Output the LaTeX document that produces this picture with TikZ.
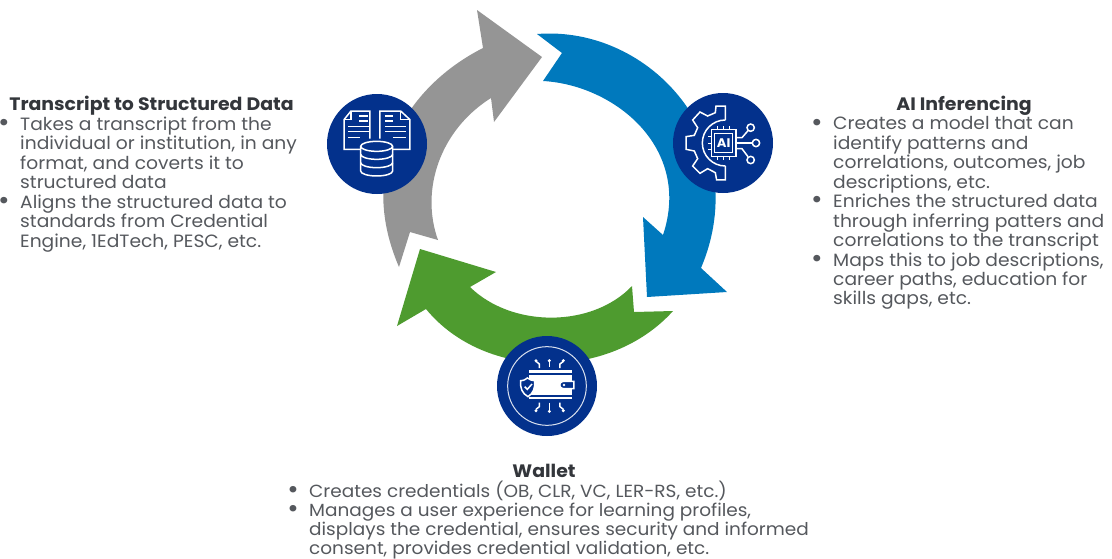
\documentclass[tikz,border=0pt]{standalone}
\usepackage{fontspec}
\setmainfont{Poppins}[FakeStretch=1.05]
\usetikzlibrary{shapes.geometric}
\definecolor{navy}{HTML}{03318C}
\definecolor{bluearrow}{HTML}{0079BD}
\definecolor{greyarrow}{HTML}{959595}
\definecolor{greenarrow}{HTML}{4E9B2F}
\definecolor{bodytxt}{HTML}{55585D}
\definecolor{headtxt}{HTML}{33363B}
\newcommand\bl{\llap{\raisebox{-0.12ex}{\scalebox{1.5}{\textbullet}}\hspace{10.5pt}}}
\tikzset{
  hub/.style={circle,fill=navy,minimum size=100pt,inner sep=0pt},
  bodyblock/.style={anchor=north west,inner sep=0pt,align=left,text=bodytxt,
    font=\fontsize{17.8}{19.45}\selectfont},
  headblock/.style={anchor=base,inner sep=0pt,text=headtxt,
    font=\fontsize{18}{19.45}\selectfont\bfseries},
  ico/.style={draw=white,line width=1.5pt,line join=miter},
}
\begin{document}
\begin{tikzpicture}[x=1pt,y=-1pt]
\useasboundingbox (0,0) rectangle (1112,558);
% arrows
\fill[greyarrow] (399,267) -- (410,232) -- (438,240)
  .. controls (420,190) and (440,130) .. (491,98)
  -- (494,122) -- (542,57) -- (477,10) -- (483,48)
  .. controls (410,85) and (355,165) .. (399,267) -- cycle;
\fill[bluearrow] (537,34) -- (562,53) -- (543,81)
  .. controls (615,85) and (692,148) .. (663,235)
  -- (643,217) -- (647,297) -- (727,292) -- (701,268)
  .. controls (755,140) and (650,25) .. (537,34) -- cycle;
\fill[greenarrow] (673,311) -- (634,312) -- (632,286)
  .. controls (592,328) and (512,328) .. (470,287)
  -- (496,272) -- (420,249) -- (397,326) -- (426,309)
  .. controls (485,381) and (610,381) .. (673,311) -- cycle;
% hubs
\node[hub] (hubT) at (377,144) {};
\node[hub] (hubA) at (723,143) {};
\node[hub] (hubW) at (547,386) {};
% transcript icon
\begin{scope}[shift={(330,97)},x=0.3333pt,y=-0.3333pt]
  \draw[ico] (92,157) -- (42,157) -- (42,68) -- (63,42) -- (120,42) -- (120,125);
  \draw[ico] (63,42) -- (63,68) -- (42,68);
  \draw[ico] (187,157) -- (240,157) -- (240,68) -- (212,42) -- (150,42) -- (150,125);
  \draw[ico] (212,42) -- (212,68) -- (240,68);
  \foreach \yy in {57,72} {\draw[ico] (88,\yy) -- (115,\yy); \draw[ico] (165,\yy) -- (190,\yy);}
  \foreach \yy in {88,103} {\draw[ico] (55,\yy) -- (118,\yy); \draw[ico] (165,\yy) -- (228,\yy);}
  \draw[ico] (55,122) -- (90,122); \draw[ico] (190,122) -- (228,122);
  \draw[ico,fill=navy] (92,148) -- (92,222) arc[start angle=180,end angle=0,x radius=48,y radius=15] -- (188,148)
     arc[start angle=0,end angle=-180,x radius=48,y radius=15] -- cycle;
  \draw[ico] (92,148) arc[start angle=180,end angle=0,x radius=48,y radius=15];
  \draw[ico] (92,172) arc[start angle=180,end angle=0,x radius=48,y radius=15];
  \draw[ico] (92,197) arc[start angle=180,end angle=0,x radius=48,y radius=15];
\end{scope}
% AI icon
\begin{scope}[shift={(676,96)},x=0.3333pt,y=-0.3333pt]
  \draw[ico] (148,72) -- (148,30) -- (120,30) -- (118,50) -- (95,60) -- (72,48) -- (50,72) -- (65,95)
    -- (55,118) -- (30,122) -- (30,160) -- (55,165) -- (65,188) -- (50,210) -- (72,232) -- (95,218)
    -- (118,230) -- (122,252) -- (148,252) -- (148,210);
  \draw[ico] (148,72) arc[start angle=-90,end angle=-270,radius=69];
  \draw[ico,fill=navy] (106,100) rectangle (180,182);
  \draw[ico,line width=1pt] (116,112) rectangle (170,170);
  \node[font=\fontsize{12.5}{13}\selectfont\bfseries,text=white,inner sep=0pt] (aiLabel) at (143,141) {AI};
  \foreach \yy in {122,141,160} {\draw[ico,line width=1pt] (96,\yy) -- (106,\yy);}
  \foreach \xx in {125,142,160} {\draw[ico,line width=1pt] (\xx,90) -- (\xx,100); \draw[ico,line width=1pt] (\xx,182) -- (\xx,192);}
  \draw[ico] (180,125) -- (198,125) -- (216,104);
  \draw[ico] (180,141) -- (228,141);
  \draw[ico] (180,158) -- (198,158) -- (216,182);
  \draw[ico] (224,95) circle[radius=11];
  \draw[ico] (240,141) circle[radius=11];
  \draw[ico] (224,192) circle[radius=11];
\end{scope}
% wallet icon
\begin{scope}[shift={(500,338)},x=0.3333pt,y=-0.3333pt]
  \draw[white!85!navy,line width=1pt] (141,144) circle[radius=118];
  \fill[white] (87,97) rectangle (215,105);
  \fill[white] (87,110) rectangle (215,171);
  \fill[white] (87,176) rectangle (215,184);
  \draw[ico,fill=navy] (222,130) -- (190,130) arc[start angle=-90,end angle=-270,radius=11] -- (222,152) -- cycle;
  \fill[white] (192,141) circle[radius=4];
  \draw[ico,fill=navy] (82,120) .. controls (72,128) and (66,128) .. (62,128)
     .. controls (60,150) and (66,166) .. (84,176)
     .. controls (100,166) and (106,150) .. (104,128)
     .. controls (98,128) and (90,126) .. (82,120) -- cycle;
  \draw[ico] (74,146) -- (82,154) -- (96,138);
  \draw[ico] (148,72) -- (148,88);
  \draw[ico] (108,70) -- (118,78) -- (118,90);
  \draw[ico] (190,70) -- (180,78) -- (180,90);
  \draw[ico] (148,194) -- (148,216);
  \draw[ico] (118,194) -- (118,206) -- (108,214);
  \draw[ico] (180,194) -- (180,206) -- (190,214);
  \foreach \xx/\yy in {148/68,108/68,190/68,148/220,108/218,190/218} {\fill[white] (\xx,\yy) circle[radius=5];}
\end{scope}
% left text
\node[headblock] (tTitle) at (151.5,110) {Transcript to Structured Data};
\node[bodyblock] (tBody) at (20,116.5) {\bl Takes a transcript from the\\individual or institution, in any\\format, and coverts it to\\structured data\\\bl Aligns the structured data to\\standards from Credential\\Engine, 1EdTech, PESC, etc.};
% right text
\node[headblock] (aTitle) at (964,110) {AI Inferencing};
\node[bodyblock] (aBody) at (833,116.5) {\bl Creates a model that can\\identify patterns and\\correlations, outcomes, job\\descriptions, etc.\\\bl Enriches the structured data\\through inferring patters and\\correlations to the transcript\\\bl Maps this to job descriptions,\\career paths, education for\\skills gaps, etc.};
% bottom text
\node[headblock] (wTitle) at (544,477) {Wallet};
\node[bodyblock,font=\fontsize{17.6}{19.1}\selectfont] (wBody) at (309,481) {\bl Creates credentials (OB, CLR, VC, LER-RS, etc.)\\\bl Manages a user experience for learning profiles,\\displays the credential, ensures security and informed\\consent, provides credential validation, etc.};
\end{tikzpicture}
\end{document}
